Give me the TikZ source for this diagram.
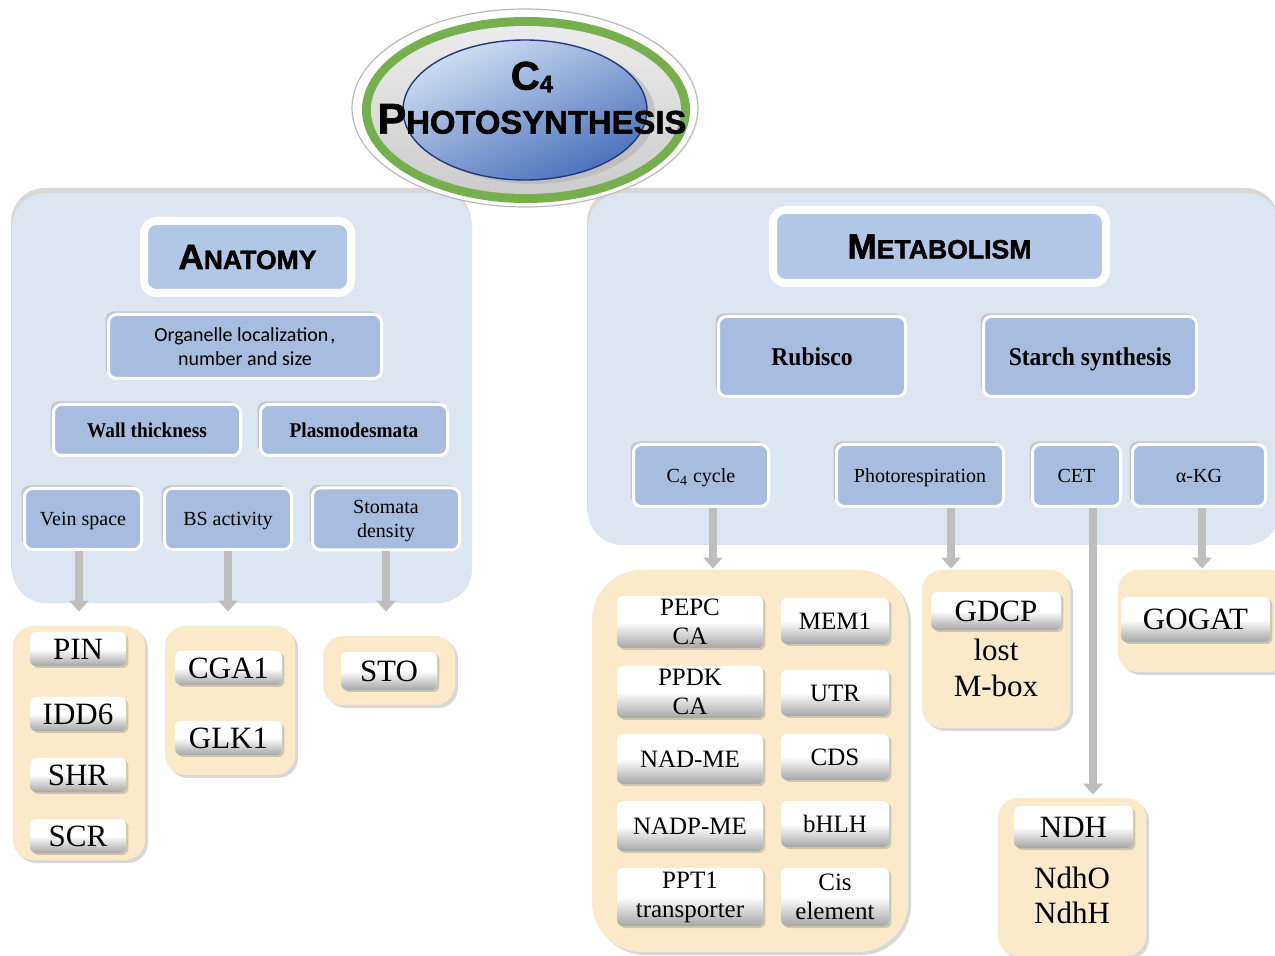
\documentclass[tikz,border=0pt]{standalone}
\usepackage{fontspec}
\setmainfont{Liberation Serif}
\newfontfamily\carl{Carlito}
\newfontfamily\heavy{Liberation Sans}[BoldFeatures={FakeBold=1.6}]
\newfontfamily\bser{Liberation Serif}[FakeStretch=0.92]
\usetikzlibrary{arrows.meta,shadows}
\definecolor{panelblue}{RGB}{220,230,243}
\definecolor{boxblue}{RGB}{167,188,222}
\definecolor{titleblue}{RGB}{178,199,230}
\definecolor{ybg}{RGB}{250,234,201}
\definecolor{agray}{RGB}{190,190,190}
\definecolor{ringgreen}{RGB}{118,176,78}
\definecolor{ellLight}{RGB}{208,222,242}
\definecolor{ellDark}{RGB}{72,112,186}
\definecolor{ellnavy}{RGB}{35,55,125}
\newcommand{\fakesc}[4]{{\fontsize{#1}{#1}\selectfont #3}{\fontsize{#2}{#2}\selectfont #4}}
\begin{document}
\begin{tikzpicture}[x=0.5pt,y=-0.5pt,
  panel/.style={rectangle, fill=panelblue, rounded corners=17pt,
    drop shadow={shadow xshift=-0.5pt, shadow yshift=2.5pt, opacity=.3}},
  bbox/.style={rectangle, rounded corners=4pt, fill=boxblue, draw=white, line width=1.5pt,
    align=center, inner sep=2pt, text depth=0pt,
    drop shadow={shadow xshift=-1.5pt, shadow yshift=1.5pt, opacity=.3}},
  tbox/.style={bbox, line width=4pt, rounded corners=6pt, fill=titleblue},
  ybox/.style={rectangle, rounded corners=10pt, fill=ybg,
    drop shadow={shadow xshift=1.5pt, shadow yshift=-1.5pt, opacity=.3}},
  wbtn/.style={rectangle, rounded corners=3pt, top color=white, bottom color=gray!70,
    middle color=white, align=center, inner sep=0pt,
    drop shadow={shadow xshift=1.2pt, shadow yshift=-1pt, opacity=.35}},
  txt/.style={align=center, inner sep=0pt},
  garrow/.style={draw=agray, line width=4pt, -{Triangle[width=9.5pt,length=5.5pt]}},
  boldlab/.style={font=\bser\bfseries\fontsize{10.5pt}{12pt}\selectfont},
  boldbig/.style={font=\bser\bfseries\fontsize{12.8pt}{14pt}\selectfont},
  reglab/.style={font=\fontsize{10pt}{12pt}\selectfont},
  gene/.style={font=\fontsize{15.5pt}{18pt}\selectfont},
  cgene/.style={font=\fontsize{12.5pt}{14.5pt}\selectfont},
  heavytitle/.style={font=\heavy\bfseries}
]
\useasboundingbox (0,0) rectangle (1275,956);
\fill[white] (0,0) rectangle (1275,956);

% panels
\node[panel, minimum width=230pt, minimum height=205pt] (lp) at (242,398) {};
\node[panel, minimum width=346pt, minimum height=176pt] (rp) at (934,369) {};

% central ellipse
\draw[gray!55, fill=white, line width=0.6pt] (525,108) ellipse [x radius=86.5pt, y radius=49.5pt];
\fill[ringgreen] (526,110) ellipse [x radius=82pt, y radius=46.5pt];
\shade[top color=gray!15, bottom color=gray!40] (526,110) ellipse [x radius=77.5pt, y radius=42pt];
\fill[gray!60, opacity=.6] (533,114) ellipse [x radius=61pt, y radius=35pt];
\shadedraw[draw=ellnavy, line width=0.7pt, top color=ellLight, bottom color=ellDark, shading angle=25]
  (525,110) ellipse [x radius=61pt, y radius=35pt];
\node[txt, heavytitle] (ctitle) at (532,77)
  {{\fontsize{20pt}{20pt}\selectfont C}\raisebox{-0.25ex}{\fontsize{12pt}{12pt}\selectfont 4}};
\node[txt, heavytitle] (ptitle) at (532,119) {\fakesc{21.5pt}{16.4pt}{P}{HOTOSYNTHESIS}};

% anatomy side
\node[tbox, heavytitle, minimum width=103.5pt, minimum height=36pt] (anat) at (247.5,257)
  {\fakesc{17.5pt}{13.3pt}{A}{NATOMY}};
\node[bbox, font=\carl\fontsize{10pt}{12pt}\selectfont, minimum width=136.5pt, minimum height=32pt]
  (org) at (245,346.5) {Organelle localization\kern1pt,\\number and size};
\node[bbox, boldlab, minimum width=93.5pt, minimum height=25.5pt] (wall) at (147,430) {Wall thickness};
\node[bbox, boldlab, minimum width=93.5pt, minimum height=25.5pt] (plas) at (354,430) {Plasmodesmata};
\node[bbox, reglab, minimum width=58.5pt, minimum height=30.5pt] (vein) at (83,519) {Vein space};
\node[bbox, reglab, minimum width=63.5pt, minimum height=30.5pt] (bsact) at (228,519) {BS activity};
\node[bbox, reglab, minimum width=73.5pt, minimum height=31pt] (stom) at (386,519) {Stomata\\density};

% metabolism side
\node[tbox, heavytitle, minimum width=166.5pt, minimum height=36.5pt] (meta) at (939.5,246.5)
  {\fakesc{17.5pt}{13.3pt}{M}{ETABOLISM}};
\node[bbox, boldbig, minimum width=93.5pt, minimum height=40pt] (rubi) at (812,356.5) {Rubisco};
\node[bbox, boldbig, minimum width=106.5pt, minimum height=40pt] (starch) at (1090,356.5) {Starch synthesis};
\node[bbox, reglab, minimum width=67.5pt, minimum height=31pt] (c4c) at (701,475.5) {C\textsubscript{4} cycle};
\node[bbox, reglab, minimum width=83.5pt, minimum height=31pt] (phot) at (920,475.5) {Photorespiration};
\node[bbox, reglab, minimum width=44pt, minimum height=31pt] (cet) at (1076.5,475.5) {CET};
\node[bbox, reglab, minimum width=66.5pt, minimum height=31pt] (akg) at (1199,475.5) {α-KG};

% yellow groups
\node[ybox, minimum width=66pt, minimum height=117pt] (y1) at (79,743) {};
\node[ybox, minimum width=65pt, minimum height=74.5pt] (y2) at (230,700.5) {};
\node[ybox, minimum width=66pt, minimum height=34.5pt] (y3) at (389,670.5) {};
\node[ybox, rounded corners=25pt, minimum width=158pt, minimum height=191pt] (yc4) at (750,761) {};
\node[ybox, minimum width=74pt, minimum height=79pt] (yg) at (996,649) {};
\node[ybox, minimum width=86pt, minimum height=51pt] (ygo) at (1204,621) {};
\node[ybox, minimum width=74pt, minimum height=79pt] (yn) at (1072,877) {};

% left genes
\node[wbtn, gene, minimum width=48pt, minimum height=17pt] (pin) at (78,649) {PIN};
\node[wbtn, gene, minimum width=48pt, minimum height=17pt] (idd) at (78,714) {IDD6};
\node[wbtn, gene, minimum width=48pt, minimum height=17pt] (shr) at (78,775) {SHR};
\node[wbtn, gene, minimum width=48pt, minimum height=17pt] (scr) at (78,836) {SCR};
\node[wbtn, gene, minimum width=53.5pt, minimum height=17pt] (cga) at (228.5,668) {CGA1};
\node[wbtn, gene, minimum width=53.5pt, minimum height=17pt] (glk) at (228.5,738) {GLK1};
\node[wbtn, gene, minimum width=48pt, minimum height=19pt] (sto) at (389,671) {STO};

% C4 cycle genes
\node[wbtn, cgene, minimum width=73pt, minimum height=26pt] (pepc) at (690,622) {PEPC\\CA};
\node[wbtn, cgene, minimum width=73pt, minimum height=26pt] (ppdk) at (690,692) {PPDK\\CA};
\node[wbtn, cgene, minimum width=73pt, minimum height=25pt] (nadme) at (690,759) {NAD-ME};
\node[wbtn, cgene, minimum width=73pt, minimum height=25pt] (nadpme) at (690,826) {NADP-ME};
\node[wbtn, cgene, minimum width=73pt, minimum height=29pt] (ppt) at (690,897) {PPT1\\transporter};
\node[wbtn, cgene, minimum width=54pt, minimum height=23pt] (mem) at (835,621) {MEM1};
\node[wbtn, cgene, minimum width=54pt, minimum height=23pt] (utr) at (835,693) {UTR};
\node[wbtn, cgene, minimum width=54pt, minimum height=23pt] (cds) at (835,757) {CDS};
\node[wbtn, cgene, minimum width=54pt, minimum height=23pt] (bhlh) at (835,824) {bHLH};
\node[wbtn, cgene, minimum width=54pt, minimum height=29pt] (cis) at (835,897) {Cis\\element};

% other genes
\node[wbtn, gene, minimum width=65pt, minimum height=19pt] (gdcp) at (996,611) {GDCP};
\node[txt, font=\fontsize{15.5pt}{18pt}\selectfont] (lost) at (996,668) {lost\\M-box};
\node[wbtn, gene, minimum width=74.5pt, minimum height=22.5pt] (gogat) at (1195.5,619.5) {GOGAT};
\node[wbtn, gene, minimum width=59.5pt, minimum height=21pt] (ndh) at (1073.5,827) {NDH};
\node[txt, font=\fontsize{15.5pt}{17.5pt}\selectfont] (ndho) at (1072,895) {NdhO\\NdhH};

% arrows
\draw[garrow, shorten >=7pt] (y1.north |- vein.south) -- (y1.north);
\draw[garrow, shorten >=7pt] (bsact.south) -- (bsact.south |- y2.north);
\draw[garrow, shorten >=12pt] (stom.south) -- (stom.south |- y3.north);
\draw[garrow, shorten >=0.5pt] ([xshift=6pt]c4c.south) -- ([xshift=6pt]c4c.south |- yc4.north);
\draw[garrow, shorten >=0.5pt] ([xshift=15.5pt]phot.south) -- ([xshift=15.5pt]phot.south |- yg.north);
\draw[garrow, shorten >=1.5pt] ([xshift=8.25pt]cet.south) -- ([xshift=8.25pt]cet.south |- yn.north);
\draw[garrow, shorten >=0.5pt] ([xshift=1.5pt]akg.south) -- ([xshift=1.5pt]akg.south |- ygo.north);
\end{tikzpicture}
\end{document}
